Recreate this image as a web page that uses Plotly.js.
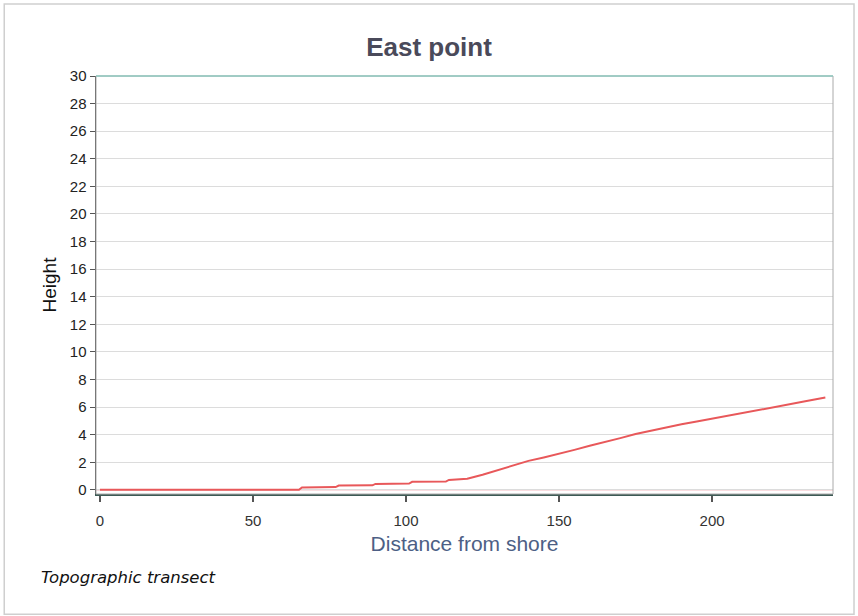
<!DOCTYPE html>
<html>
<head>
<meta charset="utf-8">
<script src="https://cdn.plot.ly/plotly-3.0.1.min.js"></script>
<style>
html,body{margin:0;padding:0;background:#fff;}
#chart{width:858px;height:616px;}
</style>
</head>
<body>
<div id="chart"></div>
<script>
const distance = [0, 10, 20, 30, 40, 50, 60, 65, 66, 77, 78, 89, 90, 101, 102, 113, 114, 120, 125, 130, 135, 140, 145, 150, 155, 160, 165, 170, 175, 180, 185, 190, 195, 200, 205, 210, 215, 220, 225, 230, 237];
const height   = [0, 0, 0, 0, 0, 0, 0, 0, 0.17, 0.2, 0.31, 0.33, 0.43, 0.46, 0.58, 0.6, 0.72, 0.8, 1.1, 1.45, 1.8, 2.1, 2.35, 2.6, 2.9, 3.2, 3.45, 3.75, 4.05, 4.3, 4.5, 4.75, 4.95, 5.15, 5.35, 5.6, 5.8, 6.0, 6.2, 6.4, 6.7];
const yTicks = [0,2,4,6,8,10,12,14,16,18,20,22,24,26,28,30];
const xTicks = [0,50,100,150,200];

const trace = {
  x: distance, y: height, type: 'scatter', mode: 'lines',
  line: {color: '#e8585a', width: 2},
  hoverinfo: 'x+y'
};

const layout = {
  width: 858, height: 616,
  paper_bgcolor: '#ffffff', plot_bgcolor: '#ffffff',
  margin: {l: 96, r: 25, t: 76, b: 122},
  showlegend: false,
  font: {family: 'Liberation Sans, Arial, sans-serif', color: '#222'},
  title: {text: '<b>East point</b>', x: 0.5, xanchor: 'center', y: 0.924, yanchor: 'middle',
          font: {size: 26, color: '#4a4a5a', family: 'Liberation Sans, Arial, sans-serif'}},
  xaxis: {
    range: [-1.3, 239.5], tickvals: xTicks, ticktext: xTicks.map(String),
    ticks: 'outside', ticklen: 6, tickcolor: '#555', tickwidth: 1.5,
    ticklabelstandoff: 6,
    showgrid: false, zeroline: false,
    showline: true, linecolor: '#3d5a55', linewidth: 2,
    tickfont: {size: 15, color: '#333'},
    title: {text: 'Distance from shore', standoff: 8, font: {size: 21, color: '#4d5f85'}}
  },
  yaxis: {
    range: [-0.3, 30], tickvals: yTicks, ticktext: yTicks.map(String),
    ticks: 'outside', ticklen: 5, tickcolor: '#555',
    showgrid: true, gridcolor: '#dcdcdc', gridwidth: 1,
    zeroline: false,
    showline: true, linecolor: '#444', linewidth: 1.5,
    tickfont: {size: 15, color: '#222'},
    title: {text: 'Height', standoff: 8, font: {size: 19, color: '#111'}}
  },
  shapes: [
    {type: 'rect', xref: 'paper', yref: 'paper', x0: 0, x1: 1, y0: 0, y1: 1,
     line: {color: '#aaaaaa', width: 1}, fillcolor: 'rgba(0,0,0,0)', layer: 'above'},
    {type: 'line', xref: 'paper', yref: 'paper', x0: 0, x1: 1, y0: 1, y1: 1,
     line: {color: '#8fc9bf', width: 1.5}},
    {type: 'line', xref: 'paper', yref: 'y', x0: 0, x1: 1, y0: 0, y1: 0,
     line: {color: '#f0a0a8', width: 1}, layer: 'below'},
    {type: 'rect', xref: 'paper', yref: 'paper', x0: -0.1245, x1: 1.0285, y0: -0.2875, y1: 1.172,
     line: {color: '#cfcfcf', width: 1.5}, fillcolor: 'rgba(0,0,0,0)'}
  ],
  annotations: [
    {text: '<i>Topographic transect</i>', xref: 'paper', yref: 'paper',
     x: -0.078, y: -0.2, xanchor: 'left', yanchor: 'middle', showarrow: false,
     font: {size: 16.5, color: '#111', family: 'DejaVu Sans, sans-serif'}}
  ]
};

Plotly.newPlot('chart', [trace], layout, {displayModeBar: false, staticPlot: true});
</script>
</body>
</html>
